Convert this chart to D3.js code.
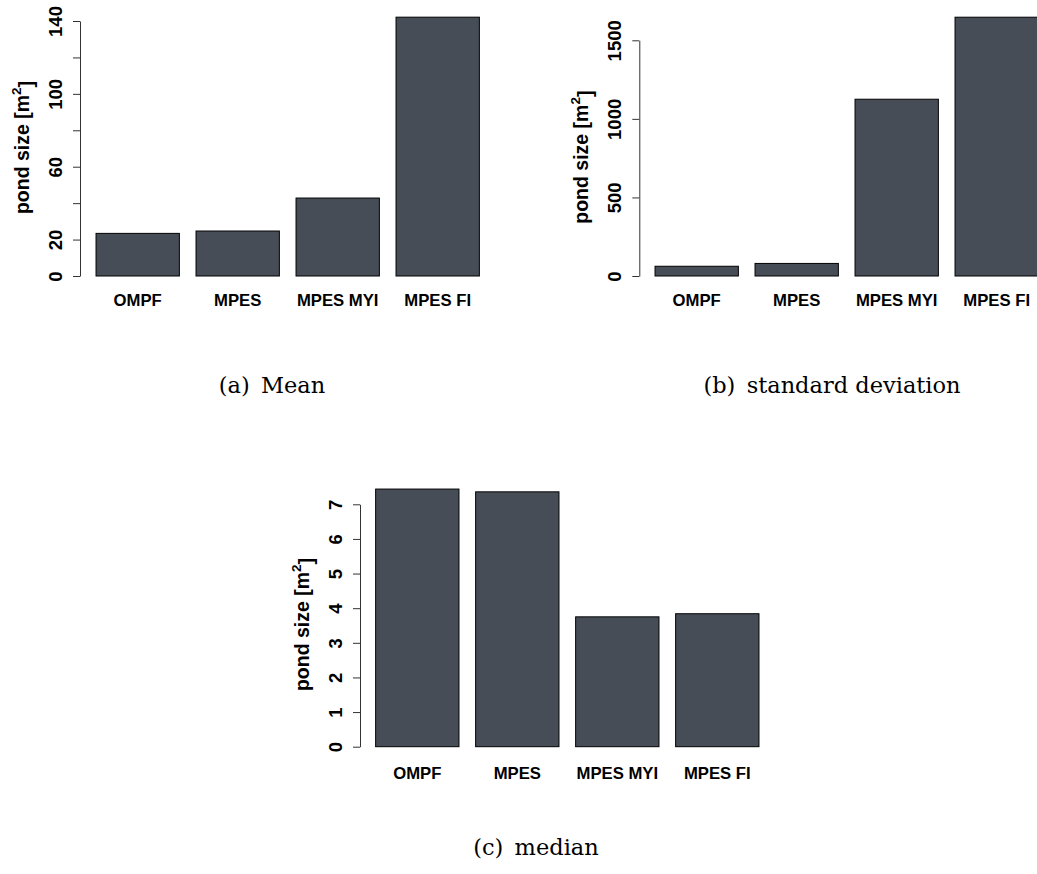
<!DOCTYPE html>
<html>
<head>
<meta charset="utf-8">
<script src="https://cdn.jsdelivr.net/npm/d3@7"></script>
<style>
  body { margin: 0; background: #fff; }
  svg text { font-family: "Liberation Sans", Arial, sans-serif; }
</style>
</head>
<body>
<script>
// Chart data
var categories = ["OMPF", "MPES", "MPES MYI", "MPES FI"];
var meanValues = [23.4, 24.7, 42.8, 142.1];
var sdValues = [62, 80, 1125, 1647];
var medianValues = [7.44, 7.36, 3.75, 3.84];

// Tick values and which ones get a label (R drops the overlapping ones)
var meanTicks = [0, 20, 40, 60, 80, 100, 120, 140];
var meanTickLabels = [0, 20, 60, 100, 140];
var sdTicks = [0, 500, 1000, 1500];
var sdTickLabels = [0, 500, 1000, 1500];
var medianTicks = [0, 1, 2, 3, 4, 5, 6, 7];
var medianTickLabels = [0, 1, 2, 3, 4, 5, 6, 7];

var captions = ["(a)\u2002Mean", "(b)\u2002standard deviation", "(c)\u2002median"];

var svgWidth = 1037;
var svgHeight = 874;
var barColor = "#474d57";

var svg = d3.select("body")
  .append("svg")
  .attr("width", svgWidth)
  .attr("height", svgHeight);

// one entry per panel: where the axis sits and the pixel span of the ticks
var panels = [
  { values: meanValues, ticks: meanTicks, labels: meanTickLabels,
    axisX: 80, y0: 276, yTop: 21, bandStart: 87.7, nameY: 300,
    caption: captions[0], capX: 272, capY: 393 },
  { values: sdValues, ticks: sdTicks, labels: sdTickLabels,
    axisX: 639.3, y0: 276, yTop: 40.3, bandStart: 646.7, nameY: 300,
    caption: captions[1], capX: 832, capY: 393 },
  { values: medianValues, ticks: medianTicks, labels: medianTickLabels,
    axisX: 360, y0: 746.7, yTop: 504.3, bandStart: 367.3, nameY: 773,
    caption: captions[2], capX: 536, capY: 855 }
];

panels.forEach(function(p) {
  var g = svg.append("g");

  // bars: width 1, space 0.2 like R barplot
  var xScale = d3.scaleBand()
    .domain(categories)
    .range([p.bandStart, p.bandStart + 400])
    .paddingInner(1 / 6)
    .paddingOuter(1 / 12);

  var yScale = d3.scaleLinear()
    .domain([0, d3.max(p.ticks)])
    .range([p.y0, p.yTop]);

  g.selectAll("rect")
    .data(p.values)
    .enter()
    .append("rect")
    .attr("x", function(d, i) { return xScale(categories[i]); })
    .attr("y", function(d) { return yScale(d); })
    .attr("width", xScale.bandwidth())
    .attr("height", function(d) { return yScale(0) - yScale(d); })
    .attr("fill", barColor)
    .attr("stroke", "#000")
    .attr("stroke-width", 1);

  // category names under the bars
  g.selectAll("text.name")
    .data(categories)
    .enter()
    .append("text")
    .attr("class", "name")
    .attr("x", function(d) { return xScale(d) + xScale.bandwidth() / 2; })
    .attr("y", p.nameY)
    .attr("text-anchor", "middle")
    .attr("dominant-baseline", "central")
    .style("font-weight", "bold")
    .style("font-size", "16.7px")
    .text(function(d) { return d; });

  // y axis
  var yAxis = d3.axisLeft(yScale)
    .tickValues(p.ticks)
    .tickSizeInner(7)
    .tickSizeOuter(0)
    .tickFormat(function(d) { return p.labels.indexOf(d) >= 0 ? d : ""; });

  var axisG = g.append("g")
    .attr("transform", "translate(" + p.axisX + ",0)")
    .call(yAxis);

  axisG.select(".domain").attr("stroke", "#333").attr("stroke-width", 1);
  axisG.selectAll(".tick line").attr("stroke", "#333");
  axisG.selectAll(".tick text")
    .attr("x", 0)
    .attr("dy", null)
    .attr("transform", "translate(-25,0) rotate(-90)")
    .attr("text-anchor", "middle")
    .attr("dominant-baseline", "central")
    .attr("fill", "#000")
    .style("font-family", "'Liberation Sans', Arial, sans-serif")
    .style("font-weight", "bold")
    .style("font-size", "18.5px");

  // axis title with superscript
  var titleY = (p.y0 + p.yTop) / 2 - 1;
  var title = g.append("text")
    .attr("transform", "translate(" + (p.axisX - 51) + "," + titleY + ") rotate(-90)")
    .attr("text-anchor", "middle")
    .style("font-weight", "bold")
    .style("font-size", "19.5px");
  title.append("tspan").text("pond size [m");
  title.append("tspan")
    .attr("dy", "-0.6em")
    .style("font-size", "13.5px")
    .text("2");
  title.append("tspan")
    .attr("dy", "0.6em")
    .text("]");

  // caption under the panel
  svg.append("text")
    .attr("x", p.capX)
    .attr("y", p.capY)
    .attr("text-anchor", "middle")
    .style("font-family", "'DejaVu Serif', serif")
    .style("font-size", "22.5px")
    .text(p.caption);
});
</script>
</body>
</html>
